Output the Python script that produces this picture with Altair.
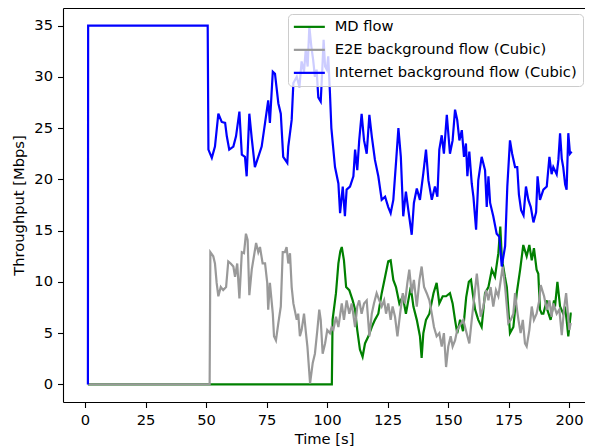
import altair as alt
import pandas as pd

series_names = ["MD flow", "E2E background flow (Cubic)", "Internet background flow (Cubic)"]
series_colors = ["#008000", "#999999", "#0000ff"]
x_ticks = [0, 25, 50, 75, 100, 125, 150, 175, 200]
y_ticks = [0, 5, 10, 15, 20, 25, 30, 35]

green_t = [1.2, 102.0, 102.3, 103.7, 104.7, 105.5, 106.1, 107.0, 107.9, 109.2, 110.6, 111.6, 112.5,
           113.6, 114.7, 115.7, 117.1, 118.5, 119.8, 121.2, 122.6, 124.0, 125.3, 126.3, 127.4, 128.5,
           129.9, 131.3, 132.6, 133.6, 134.6, 135.7, 137.1, 138.4, 139.1, 139.8, 140.9, 142.3, 144.0,
           145.3, 146.4, 147.8, 149.2, 150.8, 151.9, 152.9, 153.8, 155.0, 156.2, 157.5, 158.6, 159.5,
           160.2, 161.2, 162.5, 163.9, 165.3, 166.7, 168.1, 169.4, 170.8, 171.6, 172.2, 172.6, 173.5,
           174.3, 175.6, 177.0, 178.4, 179.8, 181.1, 182.5, 183.6, 184.6, 185.5, 186.6, 187.3, 188.0,
           188.7, 189.4, 190.8, 191.0, 192.4, 193.8, 194.2, 195.2, 196.3, 197.6, 198.3, 199.0, 199.7,
           200.7, 201.1]
green_v = [0, 0, 6.3, 8.9, 11.8, 13.0, 13.4, 12.1, 9.5, 9.2, 8.2, 7.3, 5.3,
           3.4, 2.7, 4.0, 4.7, 5.6, 6.3, 6.9, 8.9, 10.5, 12.0, 12.1, 10.2, 9.5,
           7.9, 8.6, 6.9, 8.2, 9.5, 7.6, 6.3, 4.7, 2.6, 5.0, 6.3, 6.9, 8.9,
           9.9, 7.9, 8.6, 8.6, 8.9, 7.9, 6.3, 5.0, 6.3, 5.2, 8.5, 10.0, 10.2,
           8.9, 7.3, 6.3, 5.6, 8.9, 9.5, 11.2, 10.5, 12.8, 15.4, 12.5, 11.8, 10.5,
           9.5, 5.0, 5.6, 8.9, 11.2, 13.6, 12.5, 13.6, 12.1, 13.3, 11.2, 10.8, 7.3,
           6.9, 6.9, 8.2, 7.3, 6.3, 8.2, 7.6, 10.0, 7.6, 6.9, 7.6, 6.3, 4.7,
           6.9, 6.9]

gray_t = [1.2, 51.5, 51.8, 53.0, 53.7, 54.4, 55.1, 56.1, 57.1, 58.3, 59.2, 60.2, 61.3, 62.0, 62.9,
          63.8, 64.8, 65.7, 66.5, 67.2, 67.9, 68.9, 69.8, 70.7, 71.6, 72.3, 73.4, 74.4, 75.3, 75.7,
          76.4, 77.6, 78.1, 78.9, 79.9, 80.9, 81.7, 82.6, 83.3, 84.0, 84.7, 85.4, 86.1, 87.5, 88.1,
          88.8, 89.5, 90.5, 91.3, 91.9, 93.0, 94.1, 95.0, 96.0, 96.8, 97.4, 98.2, 99.2, 100.1, 101.2,
          101.9, 102.6, 103.7, 104.7, 106.1, 107.0, 108.1, 109.2, 110.2, 111.6, 112.5, 113.3, 114.3,
          115.3, 116.4, 117.5, 118.5, 119.4, 120.5, 121.6, 122.6, 123.6, 124.4, 125.3, 126.3, 127.1,
          128.1, 129.1, 130.2, 131.3, 132.2, 133.2, 134.0, 135.0, 135.9, 137.1, 138.2, 139.1, 140.1,
          141.2, 142.3, 143.3, 144.2, 145.3, 146.4, 147.4, 148.3, 149.2, 150.1, 151.1, 151.9, 152.9,
          153.8, 155.0, 156.3, 157.7, 158.8, 159.8, 160.7, 161.9, 162.5, 163.5, 164.6, 165.7, 166.7,
          167.6, 168.7, 169.8, 170.8, 171.8, 172.6, 173.6, 174.9, 175.9, 177.0, 177.7, 178.5, 179.1,
          180.0, 180.9, 181.8, 182.5, 183.6, 184.6, 185.5, 186.6, 187.7, 188.3, 189.7, 190.8, 191.9,
          192.8, 193.5, 194.9, 196.0, 197.0, 197.9, 198.8, 199.3, 200.1, 200.7]
gray_v = [0, 0, 12.9, 12.5, 11.8, 9.9, 8.6, 9.5, 9.2, 9.5, 12.0, 11.8, 11.5, 10.5, 11.8,
          8.4, 12.9, 12.8, 14.7, 14.1, 8.7, 11.2, 12.5, 13.8, 12.9, 13.4, 11.8, 11.8, 9.9, 7.3,
          9.9, 6.9, 4.7, 4.3, 6.0, 7.6, 12.9, 12.9, 13.4, 11.8, 12.8, 9.5, 7.9, 6.3, 6.9,
          4.7, 5.3, 6.9, 5.0, 3.7, 0.1, 2.1, 3.0, 5.3, 7.3, 6.3, 3.0, 4.0, 5.3, 5.0,
          5.6, 5.3, 6.6, 5.6, 7.9, 6.3, 8.2, 6.9, 7.9, 5.6, 7.6, 8.2, 6.9,
          7.9, 8.2, 4.7, 6.9, 7.9, 8.9, 8.2, 7.6, 8.2, 6.9, 7.9, 6.3, 7.6,
          6.6, 4.7, 6.9, 8.9, 7.9, 9.9, 11.2, 8.9, 10.2, 7.6, 10.2, 11.5, 9.5,
          8.9, 8.2, 6.9, 5.6, 4.7, 5.0, 3.7, 5.0, 1.7, 3.7, 4.7, 3.7, 4.3,
          5.3, 5.8, 6.3, 5.0, 4.0, 6.3, 8.2, 10.8, 9.5, 6.6, 7.6, 9.2, 8.2,
          9.5, 7.6, 9.2, 8.6, 10.2, 11.5, 9.5, 6.0, 6.3, 6.9, 8.9, 7.3, 6.3,
          5.0, 6.3, 4.0, 3.7, 5.3, 7.6, 6.3, 6.9, 8.2, 9.7, 8.6, 7.3, 8.2,
          6.6, 7.9, 6.9, 7.3, 4.8, 7.3, 8.9, 7.6, 5.3, 6.0]

blue_t = [1.2, 1.3, 50.7, 51.0, 52.4, 53.7, 55.1, 56.5, 57.9, 58.6, 59.6, 61.3, 62.4, 63.8, 64.8,
          66.1, 66.8, 67.9, 68.9, 70.2, 71.6, 73.0, 74.4, 75.7, 76.4, 77.6, 78.5, 79.9, 80.9, 81.9,
          83.6, 84.0, 85.4, 86.1, 87.5, 88.6, 89.5, 90.5, 91.2, 92.0, 92.7, 93.5, 94.3, 95.0, 95.7,
          96.4, 97.4, 98.0, 98.6, 99.2, 99.9, 100.5, 101.2, 101.8, 103.3, 104.7, 105.4, 106.5, 107.4,
          108.1, 109.5, 110.9, 111.6, 112.5, 113.3, 114.3, 115.3, 116.4, 117.5, 118.5, 119.8, 121.2,
          122.6, 124.0, 125.3, 126.3, 127.4, 128.5, 129.5, 130.5, 131.5, 132.6, 133.6, 135.0, 135.9,
          137.1, 138.4, 139.8, 140.9, 141.9, 143.3, 144.6, 145.6, 146.4, 147.4, 148.3, 149.5, 150.8,
          151.9, 152.9, 153.8, 154.7, 155.7, 156.6, 157.4, 158.0, 158.8, 159.8, 160.5, 161.6, 162.5,
          163.9, 165.3, 166.0, 166.7, 167.4, 168.7, 170.1, 171.2, 172.2, 173.6, 174.5, 175.6, 176.5,
          177.7, 178.6, 179.3, 180.2, 181.2, 182.2, 183.2, 184.2, 185.3, 186.4, 187.0, 188.0, 189.4,
          190.8, 191.9, 192.8, 193.5, 194.9, 195.6, 196.3, 197.0, 197.6, 198.4, 199.0, 199.7, 200.4,
          201.1]
blue_v = [0, 35, 35, 22.9, 22.1, 23.2, 26.4, 25.6, 25.5, 24.2, 22.9, 23.2, 24.2, 26.6, 22.4,
          22.2, 20.3, 26.4, 24.0, 21.2, 22.2, 23.2, 25.5, 27.7, 25.5, 30.5, 30.3, 27.4, 26.4, 22.2,
          21.6, 23.2, 25.8, 29.4, 30.0, 29.0, 31.5, 30.5, 32.6, 31.0, 34.9, 33.0, 31.6, 30.0, 30.7,
          28.0, 27.6, 30.5, 33.6, 31.0, 30.7, 32.0, 28.5, 25.0, 21.2, 19.6, 16.7, 19.3, 16.4,
          19.0, 19.3, 20.3, 22.9, 20.9, 23.8, 26.4, 23.8, 22.5, 26.3, 24.2, 21.9, 20.3,
          18.0, 18.3, 17.3, 16.7, 18.0, 21.6, 25.0, 22.2, 16.4, 18.8, 17.0, 14.6, 17.7,
          19.1, 18.0, 20.6, 22.9, 19.9, 18.0, 19.3, 18.3, 22.9, 24.3, 22.5, 26.3, 22.5,
          23.8, 26.8, 25.8, 23.8, 24.8, 22.2, 23.5, 20.3, 22.7, 19.6, 18.3, 15.1, 19.9,
          22.2, 20.9, 17.3, 20.3, 17.7, 16.4, 14.7, 14.4, 11.5, 13.5, 19.3, 23.8, 22.5,
          21.2, 21.2, 18.5, 17.0, 16.5, 19.3, 18.0, 17.3, 15.8, 16.8, 20.3, 18.0, 19.0,
          19.3, 22.2, 20.5, 21.2, 20.5, 21.9, 24.5, 22.0, 21.2, 19.5, 19.0, 24.5, 22.5,
          22.7]

frames = []
for name, ts, vs in [(series_names[0], green_t, green_v),
                     (series_names[1], gray_t, gray_v),
                     (series_names[2], blue_t, blue_v)]:
    frames.append(pd.DataFrame({"t": ts, "v": vs, "flow": name}))
df = pd.concat(frames, ignore_index=True)

FONT = "DejaVu Sans"
FS = 14.7

x_scale = alt.Scale(domain=[-9.09, 206.6], nice=False, zero=False)
y_scale = alt.Scale(domain=[-1.71, 36.71], nice=False, zero=False)

lines = alt.Chart(df).mark_line(strokeWidth=2.2).encode(
    x=alt.X("t:Q", scale=x_scale,
            axis=alt.Axis(values=x_ticks, title="Time [s]", grid=False, labelFlush=False,
                          tickSize=5.5, labelPadding=4.6, titlePadding=5, format="d")),
    y=alt.Y("v:Q", scale=y_scale,
            axis=alt.Axis(values=y_ticks, title="Throughput [Mbps]", grid=False, labelFlush=False,
                          tickSize=5.5, labelPadding=5, titlePadding=7, format="d")),
    color=alt.Color("flow:N",
                    scale=alt.Scale(domain=series_names, range=series_colors),
                    sort=series_names,
                    legend=alt.Legend(orient="none", legendX=225, legendY=6, title=None,
                                      symbolType="M-3.1,0L3.1,0", symbolSize=100,
                                      symbolStrokeWidth=2.2, symbolOffset=8.5,
                                      labelOffset=18, labelFontSize=FS, labelFont=FONT,
                                      labelColor="black", labelLimit=0,
                                      padding=5.5, rowPadding=7,
                                      fillColor="rgba(255,255,255,0.8)",
                                      strokeColor="#cccccc", cornerRadius=4)),
    order=alt.Order("t:Q"),
)

top_frame = alt.Chart(df).mark_line(strokeOpacity=0).encode(
    x=alt.X("t:Q", scale=x_scale,
            axis=alt.Axis(orient="top", labels=False, ticks=False, title=None, grid=False)),
    y=alt.Y("v:Q", scale=y_scale, axis=None),
)

chart = alt.layer(lines, top_frame).resolve_axis(
    x="independent", y="independent"
).properties(
    width=522, height=394,
    autosize=alt.AutoSizeParams(type="none"),
    padding={"left": 55, "top": 0, "right": 0, "bottom": 46},
).configure_view(stroke=None).configure_axis(
    labelFont=FONT, titleFont=FONT, labelFontSize=FS, titleFontSize=FS,
    titleFontWeight="normal", labelColor="black", titleColor="black",
    domainColor="black", tickColor="black", domainWidth=1.1, tickWidth=1.1,
)

chart.save("out.html", embed_options={"renderer": "svg", "actions": False})
